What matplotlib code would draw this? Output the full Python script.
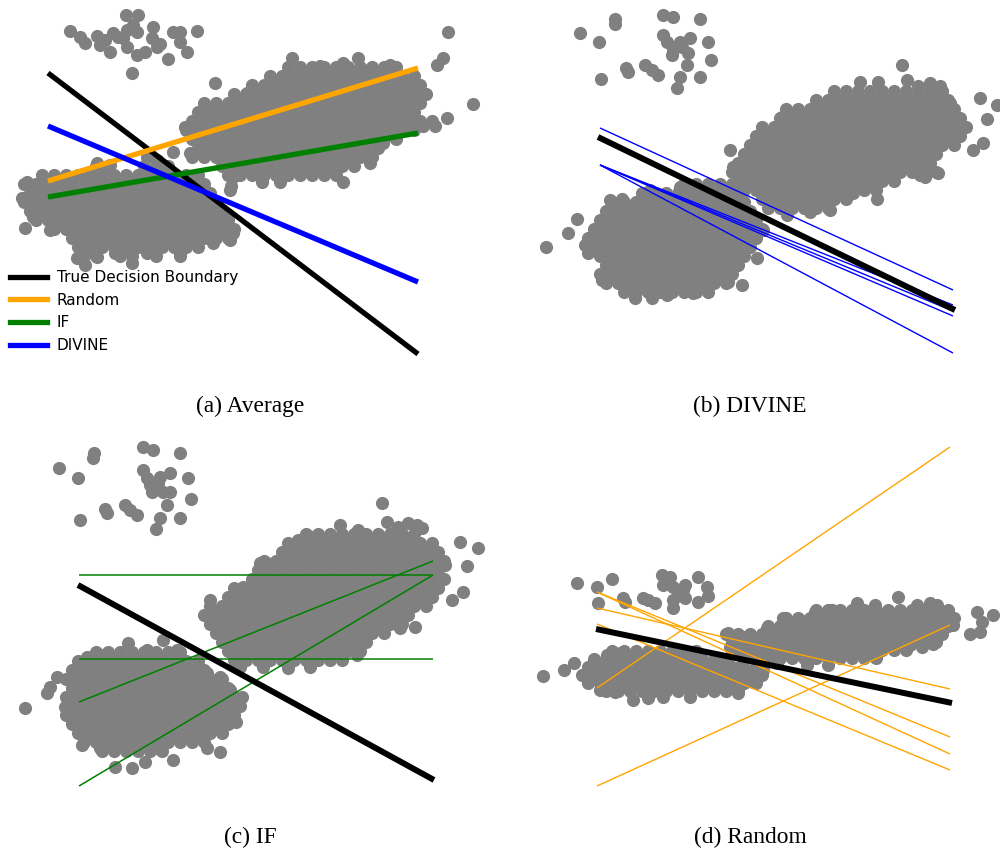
import matplotlib
matplotlib.use("Agg")
import matplotlib.pyplot as plt
from matplotlib.lines import Line2D

W, H = 1000, 852
POINT_COLOR = "#808080"
POINT_SIZE = 90

# ---------------------------------------------------------------------------
# Scatter data (feature 1 -> x, feature 2 -> y, y axis drawn downward)
# Sparse clusters and edge points are listed point by point; the dense
# clusters are listed row by row as (y, [x, x, ...]).
# ---------------------------------------------------------------------------

# (a) Average
A_SPARSE = [(126, 15), (138, 15), (70, 31), (80, 37), (85, 43), (97, 36), (100, 45),
            (113, 33), (118, 37), (127, 30), (133, 25), (137, 32), (153, 27), (152, 38),
            (157, 47), (173, 32), (180, 32), (180, 42), (187, 52), (197, 31), (110, 52),
            (127, 47), (137, 55), (145, 52), (168, 59), (132, 73), (123, 38), (105, 40),
            (160, 44)]
A_LOW = [
    (166, [96, 108, 144, 156, 168]),
    (175, [42, 54, 66, 78, 90, 102, 114, 126, 138, 150, 162, 174, 186, 198]),
    (184, [24, 36, 48, 60, 72, 84, 96, 108, 120, 132, 144, 156, 168, 180, 192, 204]),
    (193, [30, 42, 54, 66, 78, 90, 102, 114, 126, 138, 150, 162, 174, 186, 198, 210]),
    (202, [24, 36, 48, 60, 72, 84, 96, 108, 120, 132, 144, 156, 168, 180, 192, 204, 216]),
    (211, [30, 42, 54, 66, 78, 90, 102, 114, 126, 138, 150, 162, 174, 186, 198, 210, 222]),
    (220, [36, 48, 60, 72, 84, 96, 108, 120, 132, 144, 156, 168, 180, 192, 204, 216, 228]),
    (229, [54, 66, 78, 90, 102, 114, 126, 138, 150, 162, 174, 186, 198, 210, 222, 234]),
    (238, [72, 84, 96, 108, 120, 132, 144, 156, 168, 180, 192, 204, 216, 228]),
    (247, [78, 90, 102, 114, 126, 138, 150, 162, 174, 186, 198]),
    (256, [84, 96, 120, 132, 156, 180]),
]
A_HIGH = [
    (67, [288, 300, 312, 324, 336, 348, 360, 372, 384, 396]),
    (76, [270, 282, 294, 306, 318, 330, 342, 354, 366, 378, 390, 402, 414]),
    (85, [252, 264, 276, 288, 300, 312, 324, 336, 348, 360, 372, 384, 396, 408, 420]),
    (94, [234, 246, 258, 270, 282, 294, 306, 318, 330, 342, 354, 366, 378, 390, 402, 414, 426]),
    (103, [204, 216, 228, 240, 252, 264, 276, 288, 300, 312, 324, 336, 348, 360, 372, 384, 396,
           408, 420]),
    (112, [198, 210, 222, 234, 246, 258, 270, 282, 294, 306, 318, 330, 342, 354, 366, 378, 390,
           402, 414]),
    (121, [192, 204, 216, 228, 240, 252, 264, 276, 288, 300, 312, 324, 336, 348, 360, 372, 384,
           396, 408, 420, 432]),
    (130, [186, 198, 210, 222, 234, 246, 258, 270, 282, 294, 306, 318, 330, 342, 354, 366, 378,
           390, 402, 414]),
    (139, [192, 204, 216, 228, 240, 252, 264, 276, 288, 300, 312, 324, 336, 348, 360, 372, 384,
           396]),
    (148, [198, 210, 222, 234, 246, 258, 270, 282, 294, 306, 318, 330, 342, 354, 366, 378]),
    (157, [192, 204, 216, 228, 240, 252, 264, 276, 288, 300, 312, 324, 336, 348, 360, 372]),
    (166, [222, 234, 246, 258, 270, 282, 294, 306, 318, 330, 342, 354]),
    (175, [228, 240, 252, 264, 276, 288, 300, 312, 324, 336]),
]
A_EDGE = [(22, 198), (27, 182), (25, 228), (33, 217), (50, 230), (37, 187), (77, 258), (85, 265),
          (97, 257), (115, 253), (132, 263), (147, 253), (180, 253), (213, 243), (230, 240),
          (233, 233), (220, 227), (231, 186), (97, 163), (110, 165), (147, 157), (157, 160),
          (173, 152), (292, 58), (358, 58), (443, 58), (437, 65), (448, 32), (473, 104),
          (215, 83), (447, 118), (423, 126), (435, 126), (405, 127), (383, 143), (370, 163),
          (185, 127), (190, 153), (230, 190), (233, 177), (262, 182), (280, 182), (343, 182),
          (320, 66), (343, 63), (363, 70), (390, 65), (247, 93), (267, 88)]

# (b) DIVINE
B_SPARSE = [(580, 33), (599, 42), (615, 19), (615, 24), (601, 79), (626, 68), (628, 72),
            (645, 65), (652, 70), (658, 75), (663, 15), (673, 17), (663, 35), (667, 42),
            (673, 50), (680, 42), (690, 38), (682, 47), (688, 53), (687, 65), (672, 55),
            (700, 19), (708, 42), (711, 60), (700, 77), (680, 77), (677, 88)]
B_LOW = [
    (184, [684, 696, 708, 720, 732]),
    (193, [642, 654, 666, 678, 690, 702, 714, 726, 738]),
    (202, [612, 624, 636, 648, 660, 672, 684, 696, 708, 720, 732, 744]),
    (211, [606, 618, 630, 642, 654, 666, 678, 690, 702, 714, 726, 738, 750]),
    (220, [600, 612, 624, 636, 648, 660, 672, 684, 696, 708, 720, 732, 744, 756]),
    (229, [594, 606, 618, 630, 642, 654, 666, 678, 690, 702, 714, 726, 738, 750, 762]),
    (238, [588, 600, 612, 624, 636, 648, 660, 672, 684, 696, 708, 720, 732, 744, 756]),
    (247, [594, 606, 618, 630, 642, 654, 666, 678, 690, 702, 714, 726, 738, 750]),
    (256, [600, 612, 624, 636, 648, 660, 672, 684, 696, 708, 720, 732, 744]),
    (265, [606, 618, 630, 642, 654, 666, 678, 690, 702, 714, 726, 738]),
    (274, [600, 612, 624, 636, 648, 660, 672, 684, 696, 708, 720, 732]),
    (283, [606, 618, 630, 642, 654, 666, 678, 690, 702, 714, 726]),
    (292, [624, 636, 648, 660, 672, 684, 696, 708]),
]
B_HIGH = [
    (91, [834, 846, 858, 870, 882, 894, 906, 918, 930, 942]),
    (100, [816, 828, 840, 852, 864, 876, 888, 900, 912, 924, 936, 948]),
    (109, [786, 798, 810, 822, 834, 846, 858, 870, 882, 894, 906, 918, 930, 942, 954]),
    (118, [780, 792, 804, 816, 828, 840, 852, 864, 876, 888, 900, 912, 924, 936, 948, 960]),
    (127, [762, 774, 786, 798, 810, 822, 834, 846, 858, 870, 882, 894, 906, 918, 930, 942, 954,
           966]),
    (136, [756, 768, 780, 792, 804, 816, 828, 840, 852, 864, 876, 888, 900, 912, 924, 936, 948,
           960]),
    (145, [750, 762, 774, 786, 798, 810, 822, 834, 846, 858, 870, 882, 894, 906, 918, 930, 942,
           954]),
    (154, [744, 756, 768, 780, 792, 804, 816, 828, 840, 852, 864, 876, 888, 900, 912, 924, 936]),
    (163, [738, 750, 762, 774, 786, 798, 810, 822, 834, 846, 858, 870, 882, 894, 906, 918, 930]),
    (172, [732, 744, 756, 768, 780, 792, 804, 816, 828, 840, 852, 864, 876, 888, 900, 912, 924,
           936]),
    (181, [738, 750, 762, 774, 786, 798, 810, 822, 834, 846, 858, 870, 882, 894]),
    (190, [744, 756, 768, 780, 792, 804, 816, 828, 840, 852, 864, 876]),
    (199, [762, 774, 786, 798, 810, 822, 834, 846]),
    (208, [768, 780, 792, 804, 816, 828]),
]
B_EDGE = [(546, 247), (568, 233), (577, 219), (585, 245), (588, 253), (635, 298), (652, 298),
          (667, 295), (693, 293), (742, 285), (728, 282), (757, 258), (763, 230), (753, 217),
          (733, 203), (602, 280), (620, 283), (610, 200), (622, 199), (650, 190), (680, 187),
          (902, 65), (860, 82), (878, 82), (907, 80), (918, 86), (930, 83), (940, 86),
          (980, 98), (997, 105), (987, 119), (983, 143), (973, 150), (925, 177), (877, 199),
          (787, 215), (810, 212), (730, 150), (733, 167), (748, 157), (782, 117), (790, 117),
          (802, 122), (950, 103), (955, 130), (938, 173), (920, 175), (900, 170), (853, 193),
          (830, 210)]

# (c) IF
C_SPARSE = [(59, 468), (78, 478), (94, 453), (93, 458), (80, 520), (105, 509), (107, 513),
            (125, 505), (130, 510), (137, 515), (143, 447), (153, 450), (143, 470), (147, 478),
            (160, 477), (170, 473), (152, 492), (163, 492), (170, 492), (167, 505), (160, 518),
            (156, 529), (180, 453), (188, 478), (191, 499), (180, 518), (150, 485), (158, 483)]
C_LOW = [
    (652, [96, 108, 120, 132, 144, 156, 168, 180]),
    (661, [78, 90, 102, 114, 126, 138, 150, 162, 174, 186, 198]),
    (670, [72, 84, 96, 108, 120, 132, 144, 156, 168, 180, 192, 204]),
    (679, [66, 78, 90, 102, 114, 126, 138, 150, 162, 174, 186, 198, 210, 222]),
    (688, [72, 84, 96, 108, 120, 132, 144, 156, 168, 180, 192, 204, 216, 228]),
    (697, [66, 78, 90, 102, 114, 126, 138, 150, 162, 174, 186, 198, 210, 222, 234]),
    (706, [72, 84, 96, 108, 120, 132, 144, 156, 168, 180, 192, 204, 216, 228, 240]),
    (715, [66, 78, 90, 102, 114, 126, 138, 150, 162, 174, 186, 198, 210, 222, 234]),
    (724, [72, 84, 96, 108, 120, 132, 144, 156, 168, 180, 192, 204, 216, 228]),
    (733, [78, 90, 102, 114, 126, 138, 150, 162, 174, 186, 198, 210, 222]),
    (742, [84, 96, 108, 120, 132, 144, 156, 168, 180, 192, 204]),
    (751, [102, 114, 126, 138, 150, 162]),
]
C_HIGH = [
    (534, [306, 318, 330, 342, 354, 366, 378, 390, 402, 414]),
    (543, [288, 300, 312, 324, 336, 348, 360, 372, 384, 396, 408, 420, 432]),
    (552, [282, 294, 306, 318, 330, 342, 354, 366, 378, 390, 402, 414, 426, 438]),
    (561, [264, 276, 288, 300, 312, 324, 336, 348, 360, 372, 384, 396, 408, 420, 432, 444]),
    (570, [258, 270, 282, 294, 306, 318, 330, 342, 354, 366, 378, 390, 402, 414, 426, 438]),
    (579, [252, 264, 276, 288, 300, 312, 324, 336, 348, 360, 372, 384, 396, 408, 420, 432, 444]),
    (588, [234, 246, 258, 270, 282, 294, 306, 318, 330, 342, 354, 366, 378, 390, 402, 414, 426,
           438]),
    (597, [228, 240, 252, 264, 276, 288, 300, 312, 324, 336, 348, 360, 372, 384, 396, 408, 420,
           432]),
    (606, [210, 222, 234, 246, 258, 270, 282, 294, 306, 318, 330, 342, 354, 366, 378, 390, 402,
           414, 426]),
    (615, [204, 216, 228, 240, 252, 264, 276, 288, 300, 312, 324, 336, 348, 360, 372, 384, 396,
           408]),
    (624, [210, 222, 234, 246, 258, 270, 282, 294, 306, 318, 330, 342, 354, 366, 378, 390, 402]),
    (633, [216, 228, 240, 252, 264, 276, 288, 300, 312, 324, 336, 348, 360, 372, 384]),
    (642, [222, 234, 246, 258, 270, 282, 294, 306, 318, 330, 342, 354, 366]),
    (651, [228, 240, 252, 264, 276, 288, 300, 312, 324, 336, 348, 360]),
    (660, [234, 246, 258, 270, 282, 294, 306, 318, 330, 342]),
]
C_EDGE = [(25, 708), (47, 693), (50, 687), (57, 677), (65, 707), (72, 720), (82, 745),
          (100, 748), (157, 748), (207, 748), (220, 752), (115, 767), (132, 768), (145, 762),
          (173, 760), (242, 697), (236, 722), (230, 690), (220, 677), (207, 673), (128, 643),
          (163, 640), (87, 657), (100, 655), (147, 650), (177, 650), (382, 503), (340, 525),
          (358, 530), (387, 522), (398, 527), (408, 523), (417, 525), (422, 528), (460, 542),
          (478, 548), (467, 566), (463, 592), (452, 600), (445, 565), (415, 627), (400, 628),
          (240, 667), (263, 667), (288, 668), (310, 667), (357, 655), (227, 608), (210, 600),
          (243, 587), (260, 563), (267, 563), (293, 545), (298, 540), (313, 537), (427, 593),
          (430, 547)]

# (d) Random
D_SPARSE = [(577, 583), (597, 587), (612, 579), (598, 603), (623, 598), (625, 602), (643, 598),
            (648, 600), (655, 603), (662, 575), (670, 577), (663, 585), (673, 587), (685, 585),
            (680, 593), (673, 600), (685, 598), (673, 608), (698, 577), (707, 587), (708, 596),
            (698, 602), (683, 590)]
D_LOW = [
    (651, [612, 624, 636, 648, 660, 672, 684, 696]),
    (659, [594, 606, 618, 630, 642, 654, 666, 678, 690, 702, 714, 726]),
    (667, [588, 600, 612, 624, 636, 648, 660, 672, 684, 696, 708, 720, 732, 744, 756]),
    (675, [582, 594, 606, 618, 630, 642, 654, 666, 678, 690, 702, 714, 726, 738, 750, 762]),
    (683, [588, 600, 612, 624, 636, 648, 660, 672, 684, 696, 708, 720, 732, 744, 756]),
    (691, [606, 618, 630, 642, 654, 666, 678, 690, 702, 714, 726, 738]),
]
D_HIGH = [
    (610, [816, 828, 840, 852, 864, 876, 888, 900, 912, 924, 936, 948]),
    (618, [786, 798, 810, 822, 834, 846, 858, 870, 882, 894, 906, 918, 930, 942, 954]),
    (626, [768, 780, 792, 804, 816, 828, 840, 852, 864, 876, 888, 900, 912, 924, 936, 948]),
    (634, [726, 738, 750, 762, 774, 786, 798, 810, 822, 834, 846, 858, 870, 882, 894, 906, 918,
           930, 942]),
    (642, [732, 744, 756, 768, 780, 792, 804, 816, 828, 840, 852, 864, 876, 888, 900, 912, 924,
           936]),
    (650, [738, 750, 762, 774, 786, 798, 810, 822, 834, 846, 858, 870, 882, 894, 906]),
    (658, [744, 756, 768, 780, 792, 804, 816, 828, 840, 852, 864, 876]),
]
D_EDGE = [(543, 676), (564, 670), (574, 663), (583, 675), (600, 690), (615, 692), (633, 700),
          (648, 698), (663, 697), (690, 697), (738, 693), (753, 682), (763, 670), (740, 667),
          (607, 655), (620, 653), (898, 597), (857, 603), (875, 605), (917, 605), (930, 603),
          (937, 605), (977, 612), (993, 615), (982, 622), (970, 634), (980, 632), (953, 625),
          (948, 613), (757, 665), (777, 663), (807, 665), (828, 665), (853, 655), (875, 657),
          (933, 644), (922, 647), (910, 645), (728, 633), (730, 647), (745, 637), (767, 628),
          (783, 618), (800, 620), (815, 612), (832, 610)]

# ---------------------------------------------------------------------------
# Decision boundaries: ((x_start, y_start), (x_end, y_end))
# ---------------------------------------------------------------------------
A_BOUNDARIES = [
    ("True Decision Boundary", "black", ((48, 73), (418, 354))),
    ("Random", "orange", ((48, 181), (418, 68))),
    ("IF", "green", ((48, 197), (418, 133))),
    ("DIVINE", "blue", ((48, 126), (418, 282))),
]
B_TRUE = ((598, 137), (955, 310))
B_RUNS = [((600, 128), (953, 290)), ((600, 165), (953, 353)), ((600, 165), (953, 305)),
          ((600, 165), (953, 311)), ((600, 165), (953, 316))]
C_TRUE = ((78, 585), (434, 780))
C_RUNS = [((79, 575), (433, 575)), ((79, 659), (433, 659)), ((79, 702), (433, 561)),
          ((79, 786), (433, 575))]
D_TRUE = ((596, 629), (952, 703))
D_RUNS = [((597, 688), (950, 447)), ((597, 786), (950, 625)), ((597, 592), (950, 737)),
          ((597, 592), (950, 754)), ((597, 608), (950, 689)), ((597, 624), (950, 770))]

CAPTIONS = ["(a) Average", "(b) DIVINE", "(c) IF", "(d) Random"]


def rows_to_xy(rows):
    xs, ys = [], []
    for y, xrow in rows:
        xs.extend(xrow)
        ys.extend([y] * len(xrow))
    return xs, ys


def pairs_to_xy(pairs):
    return [p[0] for p in pairs], [p[1] for p in pairs]


fig = plt.figure(figsize=(W / 100, H / 100), dpi=100)


def panel(x0, x1, y0, y1):
    ax = fig.add_axes([x0 / W, 1 - y1 / H, (x1 - x0) / W, (y1 - y0) / H])
    ax.set_xlim(x0, x1)
    ax.set_ylim(y1, y0)
    ax.axis("off")
    return ax


def draw_cloud(ax, sparse, low, high, edge):
    xs, ys = [], []
    for part in (pairs_to_xy(sparse), rows_to_xy(low), rows_to_xy(high), pairs_to_xy(edge)):
        xs.extend(part[0])
        ys.extend(part[1])
    ax.scatter(xs, ys, s=POINT_SIZE, c=POINT_COLOR, linewidths=0, zorder=1, clip_on=False)


def seg(ax, s, color, lw):
    (xa, ya), (xb, yb) = s
    ax.plot([xa, xb], [ya, yb], color=color, lw=lw, solid_capstyle="butt", zorder=3)


# (a)
ax_a = panel(0, 500, 0, 390)
draw_cloud(ax_a, A_SPARSE, A_LOW, A_HIGH, A_EDGE)
for name, color, s in A_BOUNDARIES:
    seg(ax_a, s, color, 3.8)

handles = [Line2D([0], [0], color=c, lw=3.8) for _, c, _ in A_BOUNDARIES]
labels = [n for n, _, _ in A_BOUNDARIES]
fig.legend(handles, labels, loc="upper left", bbox_to_anchor=(10 / W, 1 - 270 / H),
           frameon=False, borderaxespad=0, borderpad=0,
           handlelength=2.4, handletextpad=0.65, labelspacing=0.5,
           prop={"family": "DejaVu Sans", "size": 11})

# (b)
ax_b = panel(500, 1000, 0, 390)
draw_cloud(ax_b, B_SPARSE, B_LOW, B_HIGH, B_EDGE)
for s in B_RUNS:
    seg(ax_b, s, "blue", 1.0)
seg(ax_b, B_TRUE, "black", 4.3)

# (c)
ax_c = panel(0, 500, 426, 820)
draw_cloud(ax_c, C_SPARSE, C_LOW, C_HIGH, C_EDGE)
for s in C_RUNS:
    seg(ax_c, s, "green", 1.1)
seg(ax_c, C_TRUE, "black", 4.3)

# (d)
ax_d = panel(500, 1000, 426, 820)
draw_cloud(ax_d, D_SPARSE, D_LOW, D_HIGH, D_EDGE)
for s in D_RUNS:
    seg(ax_d, s, "orange", 1.0)
seg(ax_d, D_TRUE, "black", 4.3)

# Sub-figure captions
caption_pos = [(250, 406), (750, 406), (250, 837), (750, 837)]
for text, (cx, cy) in zip(CAPTIONS, caption_pos):
    fig.text(cx / W, 1 - cy / H, text, ha="center", va="center",
             family="Liberation Serif", fontsize=16.8)

fig.savefig("out.png", dpi=100, facecolor="white")
